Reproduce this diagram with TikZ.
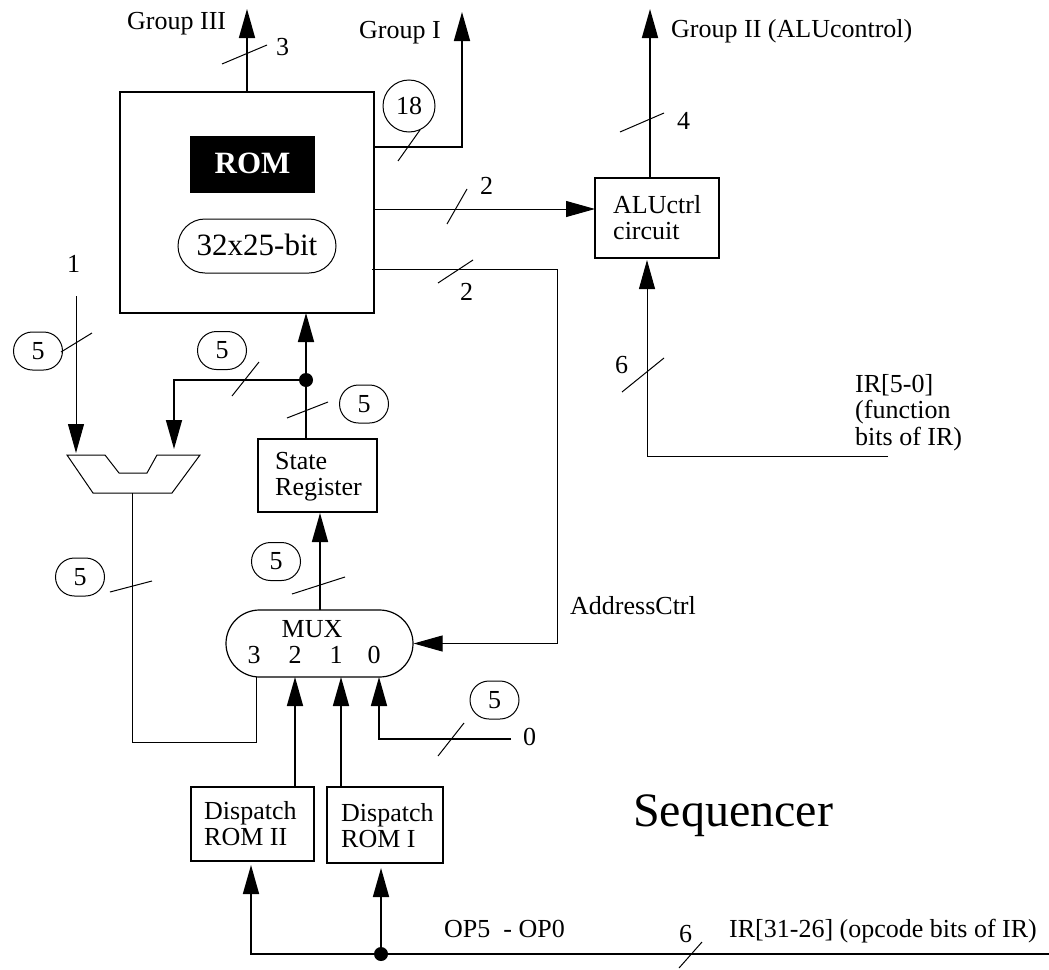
\documentclass[tikz,border=0pt]{standalone}
\usepackage{fontspec}
\setmainfont{Liberation Serif}
\usetikzlibrary{arrows.meta,shapes.misc}
\newcommand\mylines[1]{\begin{tabular}[t]{@{}l@{}}#1\end{tabular}}
\begin{document}
\begin{tikzpicture}[x=1pt,y=-1pt,
  every node/.style={inner sep=0pt,font=\fontsize{26}{26.5}\selectfont},
  thk/.style={line width=1.7pt},
  thn/.style={line width=1pt},
  arr/.style={-{Triangle[length=29pt,width=16pt]}},
  blk/.style={draw,line width=1.7pt,rectangle},
  oval/.style={draw,line width=1pt,rounded rectangle,minimum width=49pt,minimum height=38pt},
  slash/.style={line width=1pt},
  txt/.style={anchor=base west}]
\useasboundingbox (0,0) rectangle (1049,969);

% ---- blocks
\node[blk,minimum width=254pt,minimum height=221pt] (rom) at (247,202.5) {};
\node[fill=black,minimum width=125pt,minimum height=57pt] (romlbl) at (252.5,164.5) {};
\node[anchor=base,text=white,font=\fontsize{31}{32}\selectfont\bfseries] (romtxt) at (252.5,173) {ROM};
\node[draw,line width=1pt,rounded rectangle,minimum width=158pt,minimum height=54pt] (size) at (257,246) {};
\node[anchor=base,font=\fontsize{31}{32}\selectfont] (sizetxt) at (257,255) {32x25-bit};

\node[blk,minimum width=124pt,minimum height=80pt] (alu) at (657,218) {};
\node[txt] (alutxt) at (613,213) {\mylines{ALUctrl\\circuit}};

\node[blk,minimum width=119pt,minimum height=73pt] (sr) at (317.5,475.5) {};
\node[txt] (srtxt) at (275,469) {\mylines{State\\Register}};

\node[draw,line width=1.2pt,rounded rectangle,minimum width=187pt,minimum height=67pt] (mux) at (319.5,643.5) {};
\node[anchor=base] (muxtxt) at (312,637) {MUX};
\node[anchor=base] (m3) at (254,663) {3};
\node[anchor=base] (m2) at (295,663) {2};
\node[anchor=base] (m1) at (336,663) {1};
\node[anchor=base] (m0) at (374,663) {0};

\node[blk,minimum width=123pt,minimum height=74pt] (d2) at (252.5,824) {};
\node[txt] (d2txt) at (204,819) {\mylines{Dispatch\\ROM II}};
\node[blk,minimum width=116pt,minimum height=76pt] (d1) at (385,825) {};
\node[txt] (d1txt) at (341,821) {\mylines{Dispatch\\ROM I}};

% adder-like shape
\draw[thn] (67,455) -- (105,455) -- (119,473) -- (147,473) -- (157,455) -- (200,455)
  -- (172,493) -- (93,493) -- cycle;
\coordinate (addL) at (76,453);
\coordinate (addR) at (174,449);
\coordinate (addO) at (132,493);

% ---- coordinates
\coordinate (g3) at (247,9);
\coordinate (g1) at (462,12);
\coordinate (g1s) at (374,147);
\coordinate (g2) at (650,9);
\coordinate (g2s) at (650,178);
\coordinate (alus) at (374,209);
\coordinate (alue) at (595,209);
\coordinate (acs) at (372,269);
\coordinate (acb) at (557,269);
\coordinate (irf) at (888,456);
\coordinate (irt) at (647,260);
\coordinate (one) at (76,296);
\coordinate (dot) at (306,380);
\coordinate (srtop) at (306,439);
\coordinate (romb) at (306,313);
\coordinate (adb) at (174,380);
\coordinate (fb1) at (132,742);
\coordinate (m3in) at (256,677);
\coordinate (m2in) at (295,677);
\coordinate (m1in) at (341,677);
\coordinate (m0in) at (379,677);
\coordinate (d2o) at (295,787);
\coordinate (d1o) at (341,787);
\coordinate (zero) at (511,739);
\coordinate (muxtop) at (320,610);
\coordinate (srbot) at (320,513);
\coordinate (opR) at (1049,954);
\coordinate (opdot) at (381,954);
\coordinate (d2in) at (251,865);
\coordinate (d1in) at (381,868);

% ---- connectors
\draw[thk,arr] (rom.north) -- (g3);
\draw[thk,arr] (g1s) -| (g1);
\draw[thk,arr] (g2s) -- (g2);
\draw[thn,arr] (alus) -- (alue);
\draw[thn,arr] (acs) -- (acb) |- (mux.east);
\draw[thn,arr] (irf) -| (irt);
\draw[thn,arr] (one) -- (addL);
\draw[thk,arr] (srtop) -- (romb);
\draw[thk,arr] (dot) -| (addR);
\fill (dot) circle (7pt);
\draw[thn] (addO) |- (fb1 -| m3in) -- (m3in);
\draw[thk,arr] (muxtop) -- (srbot);
\draw[thk,arr] (d2o) -- (m2in);
\draw[thk,arr] (d1o) -- (m1in);
\draw[thk,arr] (zero) -| (m0in);
\draw[thk,arr] (opR) -| (d2in);
\draw[thk,arr] (opdot) -- (d1in);
\fill (opdot) circle (7pt);

% ---- bus slashes
\draw[slash] (222,64) -- (267,45);
\draw[slash] (398,161) -- (420,130);
\draw[slash] (447,224) -- (467,189);
\draw[slash] (438,283) -- (473,260);
\draw[slash] (620,132) -- (664,113);
\draw[slash] (622,392) -- (664,358);
\draw[slash] (61,352) -- (92,333);
\draw[slash] (232,396) -- (259,362);
\draw[slash] (287,418) -- (328,402);
\draw[slash] (110,592) -- (152,581);
\draw[slash] (292,594) -- (345,577);
\draw[slash] (438,756) -- (464,723);
\draw[slash] (679,968) -- (702,942);

% ---- width labels
\node[draw,line width=1pt,circle,minimum size=52pt] (c18) at (409,106) {18};
\node[oval] (o1) at (38,351) {5};
\node[oval] (o2) at (222,350.5) {5};
\node[oval] (o3) at (364,404) {5};
\node[oval] (o4) at (276,561.5) {5};
\node[oval] (o5) at (80,577) {5};
\node[oval] (o6) at (494.5,700) {5};
\node[txt] (n3) at (276,55) {3};
\node[txt] (n2a) at (480,194) {2};
\node[txt] (n2b) at (460,300) {2};
\node[txt] (n1) at (67,272) {1};
\node[txt] (n4) at (677,129) {4};
\node[txt] (n6a) at (615,373) {6};
\node[txt] (n0) at (523,745) {0};
\node[txt] (n6b) at (679,942) {6};

% ---- signal labels
\node[txt] (lg3) at (127,29) {Group III};
\node[txt] (lg1) at (359,38) {Group I};
\node[txt] (lg2) at (671,37) {Group II (ALUcontrol)};
\node[txt] (lac) at (570,614) {AddressCtrl};
\node[txt] (lir5) at (855,392) {\mylines{IR[5-0]\\(function\\bits of IR)}};
\node[txt] (lop) at (444,937) {OP5\ \ - OP0};
\node[txt] (lir31) at (729,937) {IR[31-26] (opcode bits of IR)};
\node[txt,font=\fontsize{48}{50}\selectfont] (seq) at (633,826) {Sequencer};
\end{tikzpicture}
\end{document}
